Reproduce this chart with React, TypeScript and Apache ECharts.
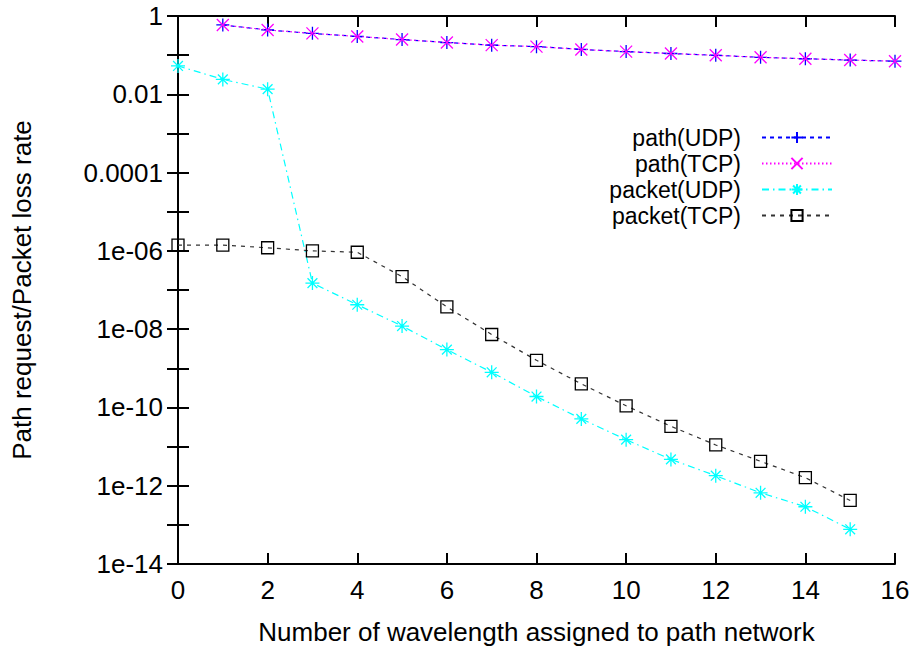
import React, { useEffect, useRef } from "react";
import * as echarts from "echarts";

const xPath = [1, 2, 3, 4, 5, 6, 7, 8, 9, 10, 11, 12, 13, 14, 15, 16];
const pathUDP = [0.59, 0.44, 0.36, 0.3, 0.25, 0.21, 0.18, 0.165, 0.14, 0.123, 0.11, 0.099, 0.088, 0.081, 0.075, 0.07];
const pathTCP = [0.59, 0.44, 0.36, 0.3, 0.25, 0.21, 0.18, 0.165, 0.14, 0.123, 0.11, 0.099, 0.088, 0.081, 0.075, 0.07];
const xPacket = [0, 1, 2, 3, 4, 5, 6, 7, 8, 9, 10, 11, 12, 13, 14, 15];
const packetUDP = [0.053, 0.024, 0.0135, 1.5e-7, 4.2e-8, 1.2e-8, 3.0e-9, 7.9e-10, 1.9e-10, 5.1e-11, 1.5e-11, 4.7e-12, 1.8e-12, 6.6e-13, 2.9e-13, 7.7e-14];
const packetTCP = [1.4e-6, 1.4e-6, 1.2e-6, 1.0e-6, 9.2e-7, 2.2e-7, 3.7e-8, 7.3e-9, 1.6e-9, 4.0e-10, 1.1e-10, 3.3e-11, 1.1e-11, 4.2e-12, 1.6e-12, 4.2e-13];
const seriesNames = ["path(UDP)", "path(TCP)", "packet(UDP)", "packet(TCP)"];
const xTitle = "Number of wavelength assigned to path network";
const yTitle = "Path request/Packet loss rate";

const FONT = "'Liberation Sans', Arial, Helvetica, sans-serif";
const FS = 26;
const LEGEND_FS = 23;

const zip = (xs: number[], ys: number[]) => xs.map((x, i) => [x, ys[i]]);

const fmtY = (v: number) => {
  const e = Math.round(Math.log10(v));
  if (e % 2 !== 0) return "";
  if (e >= -4) return v.toFixed(-e);
  const n = -e;
  return "1e-" + (n < 10 ? "0" + n : String(n));
};

export default function App() {
  const ref = useRef<HTMLDivElement>(null);
  useEffect(() => {
    if (!ref.current) return;
    const chart = echarts.init(ref.current, null, { renderer: "svg" });
    const axisLine = { show: true, lineStyle: { color: "#000", width: 2 } };
    const tick = { show: true, inside: true, length: 11, lineStyle: { color: "#000", width: 2 } };
    chart.setOption({
      animation: false,
      backgroundColor: "#fff",
      grid: { left: 178, right: 24, top: 16, bottom: 85, containLabel: false },
      legend: {
        orient: "vertical",
        right: 81,
        top: 121,
        align: "right",
        itemWidth: 70,
        itemHeight: 14,
        itemGap: 3,
        data: seriesNames,
        textStyle: { fontFamily: FONT, fontSize: LEGEND_FS, color: "#000", padding: [0, 16, 0, 0] },
      },
      xAxis: [
        {
          type: "value",
          min: 0,
          max: 16,
          interval: 2,
          name: xTitle,
          nameLocation: "middle",
          nameGap: 55,
          nameTextStyle: { fontFamily: FONT, fontSize: FS, color: "#000" },
          axisLine,
          axisTick: tick,
          splitLine: { show: false },
          axisLabel: { fontFamily: FONT, fontSize: FS, color: "#000", margin: 13 },
        },
        {
          type: "value",
          position: "top",
          min: 0,
          max: 16,
          interval: 2,
          axisLine,
          axisTick: tick,
          splitLine: { show: false },
          axisLabel: { show: false },
        },
      ],
      yAxis: [
        {
          type: "log",
          logBase: 10,
          min: 1e-14,
          max: 1,
          interval: 1,
          name: yTitle,
          nameLocation: "middle",
          nameGap: 143,
          nameTextStyle: { fontFamily: FONT, fontSize: FS, color: "#000" },
          axisLine,
          axisTick: tick,
          splitLine: { show: false },
          axisLabel: { fontFamily: FONT, fontSize: FS, color: "#000", margin: 15, formatter: fmtY },
        },
        {
          type: "log",
          logBase: 10,
          position: "right",
          min: 1e-14,
          max: 1,
          interval: 1,
          axisLine,
          axisTick: tick,
          splitLine: { show: false },
          axisLabel: { show: false },
        },
      ],
      series: [
        {
          name: seriesNames[0],
          type: "line",
          data: zip(xPath, pathUDP),
          symbol: "path://M0,5L10,5M5,0L5,10",
          symbolSize: 13,
          itemStyle: { color: "#0000ff", borderColor: "#0000ff", borderWidth: 1.3 },
          lineStyle: { color: "#0000ff", width: 1.2, type: [4, 4] },
          z: 2,
        },
        {
          name: seriesNames[1],
          type: "line",
          data: zip(xPath, pathTCP),
          symbol: "path://M0,0L10,10M0,10L10,0",
          symbolSize: 12,
          itemStyle: { color: "#ff00ff", borderColor: "#ff00ff", borderWidth: 1.3 },
          lineStyle: { color: "#ff00ff", width: 1.2, type: [1.5, 2.5] },
          z: 3,
        },
        {
          name: seriesNames[2],
          type: "line",
          data: zip(xPacket, packetUDP),
          symbol: "path://M0,5L10,5M5,0L5,10M1.5,1.5L8.5,8.5M1.5,8.5L8.5,1.5",
          symbolSize: 14,
          itemStyle: { color: "#00ffff", borderColor: "#00ffff", borderWidth: 1.3 },
          lineStyle: { color: "#00ffff", width: 1.2, type: [7, 4, 1.5, 4] },
          z: 4,
        },
        {
          name: seriesNames[3],
          type: "line",
          data: zip(xPacket, packetTCP),
          symbol: "path://M0,0L10,0L10,10L0,10Z",
          symbolSize: 12,
          itemStyle: { color: "rgba(0,0,0,0)", borderColor: "#000", borderWidth: 1.3 },
          lineStyle: { color: "#333", width: 1.2, type: [4, 5] },
          z: 5,
        },
      ],
    });
    return () => chart.dispose();
  }, []);
  return (
    <div
      ref={ref}
      style={{ position: "fixed", left: 0, top: 0, width: 919, height: 650, background: "#fff" }}
    />
  );
}
